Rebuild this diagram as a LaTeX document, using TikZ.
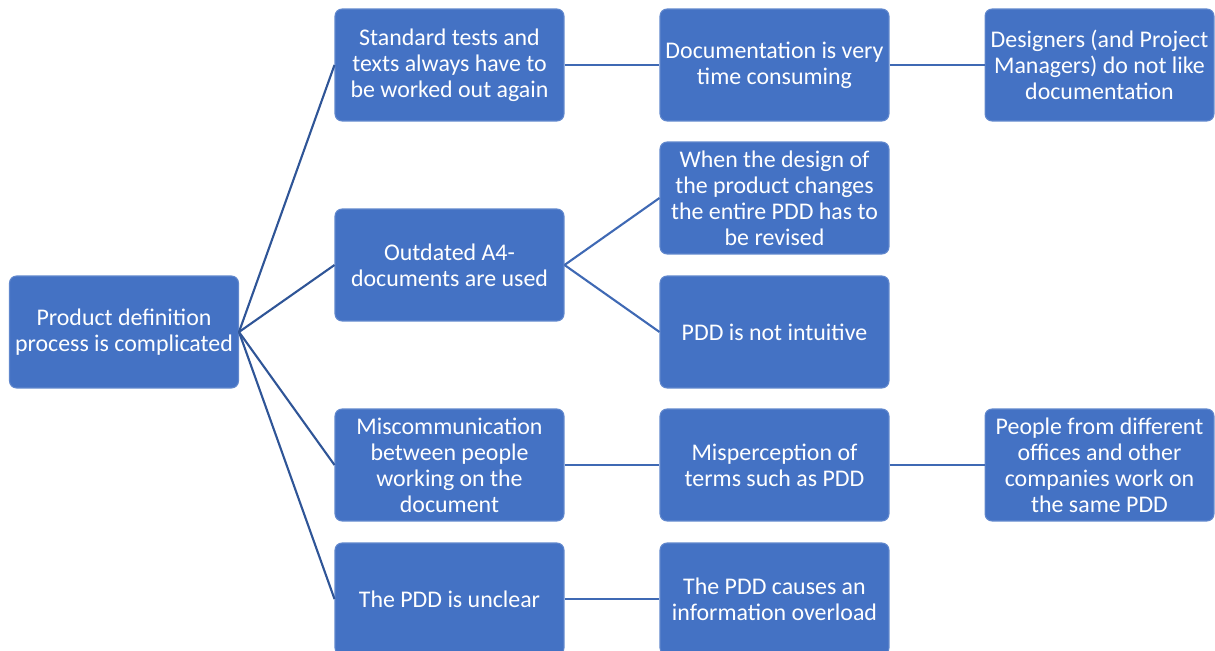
\documentclass[tikz,border=0pt]{standalone}
\usepackage{fontspec}
\setmainfont{Carlito}
\usetikzlibrary{positioning}

\definecolor{boxblue}{HTML}{4472C4}
\definecolor{rootline}{HTML}{2F5597}

\begin{document}
\begin{tikzpicture}
[x=0.02cm, y=-0.02cm, -, semithick,
every node/.style={font=\fontsize{13.6}{14.8}\selectfont},
cause/.style={rectangle, rounded corners=4pt, fill=boxblue, draw=boxblue!85!white,
  text=white, align=center,
  minimum width=4.58cm, minimum height=2.24cm, inner sep=1pt},
link/.style={draw=boxblue!92!black, line width=1.2pt},
rootlink/.style={draw=rootline, line width=1.2pt}
]
  \useasboundingbox (0,0) rectangle (1215,651);

  \node[cause] (root) at (124,332) {Product definition\\process is complicated};

  \node[cause] (std)   at (449.5,65)  {Standard tests and\\texts always have to\\be worked out again};
  \node[cause] (old)   at (449.5,265) {Outdated A4-\\documents are used};
  \node[cause] (misc)  at (449.5,465) {Miscommunication\\between people\\working on the\\document};
  \node[cause] (uncl)  at (449.5,599) {The PDD is unclear};

  \node[cause] (doc)   at (774.5,65)  {Documentation is very\\time consuming};
  \node[cause] (rev)   at (774.5,198) {When the design of\\the product changes\\the entire PDD has to\\be revised};
  \node[cause] (intu)  at (774.5,332) {PDD is not intuitive};
  \node[cause] (terms) at (774.5,465) {Misperception of\\terms such as PDD};
  \node[cause] (over)  at (774.5,599) {The PDD causes an\\information overload};

  \node[cause] (dsgn)  at (1099.5,65)  {Designers (and Project\\Managers) do not like\\documentation};
  \node[cause] (offc)  at (1099.5,465) {People from different\\offices and other\\companies work on\\the same PDD};

  \path[rootlink]
    (root.east) edge (std.west)
    (root.east) edge (old.west)
    (root.east) edge (misc.west)
    (root.east) edge (uncl.west);

  \path[link]
    (std.east)   edge (doc.west)
    (old.east)   edge (rev.west)
    (old.east)   edge (intu.west)
    (misc.east)  edge (terms.west)
    (uncl.east)  edge (over.west)
    (doc.east)   edge (dsgn.west)
    (terms.east) edge (offc.west);
\end{tikzpicture}
\end{document}
